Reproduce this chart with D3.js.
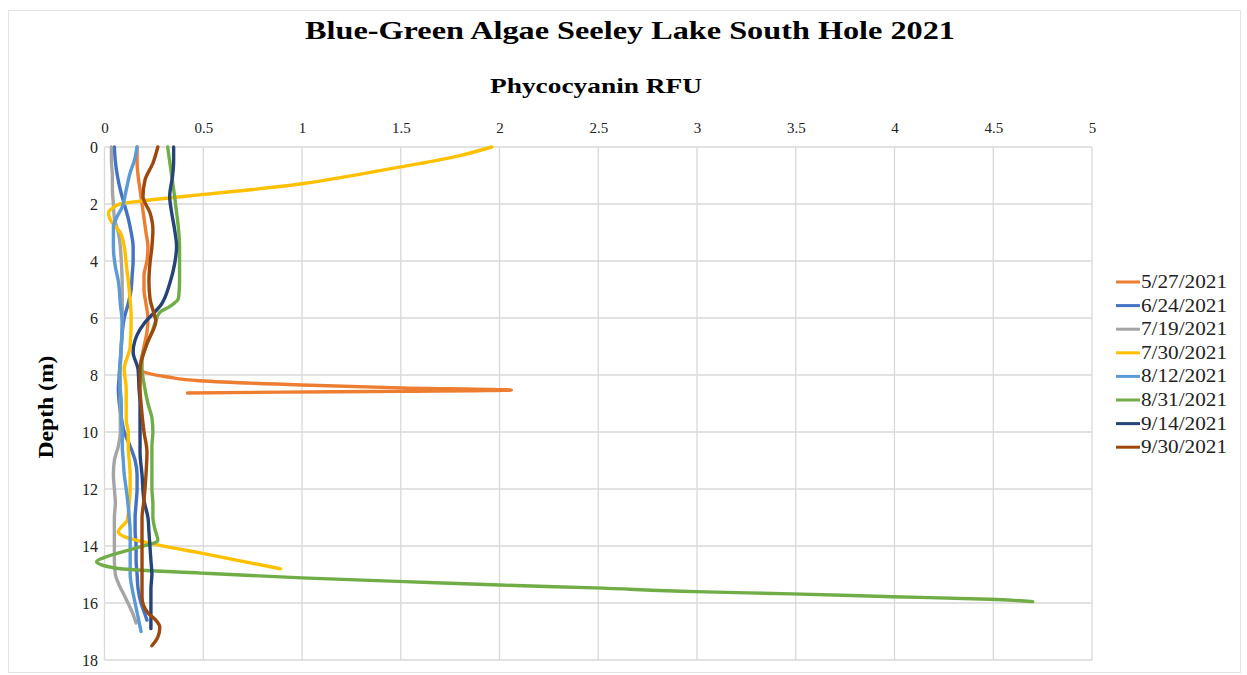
<!DOCTYPE html>
<html>
<head>
<meta charset="utf-8">
<script src="https://cdn.jsdelivr.net/npm/d3@7"></script>
<style>
  html, body { margin: 0; padding: 0; background: #fff; }
  svg { display: block; }
  svg text { font-family: "Liberation Serif", "Times New Roman", serif !important; }
</style>
</head>
<body>
<svg id="chart" width="1247" height="675"></svg>
<script>
// ---------- DATA ----------
const seriesNames = ["5/27/2021","6/24/2021","7/19/2021","7/30/2021","8/12/2021","8/31/2021","9/14/2021","9/30/2021"];
const seriesColors = ["#ED7D31","#4472C4","#A5A5A5","#FFC000","#5B9BD5","#70AD47","#264478","#9E480E"];
const xTicks = [0,0.5,1,1.5,2,2.5,3,3.5,4,4.5,5];
const yTicks = [0,2,4,6,8,10,12,14,16,18];

// depth (m) arrays and phycocyanin RFU arrays per sampling date
const depth_0527 = [0,0.5,1,1.5,2,2.5,3,3.5,4,4.5,5,5.5,6,6.5,7,7.5,7.8,8.07,8.2,8.35,8.45,8.53,8.57,8.6,8.63];
const rfu_0527   = [0.165,0.165,0.17,0.18,0.19,0.2,0.21,0.22,0.215,0.2,0.2,0.21,0.22,0.215,0.2,0.185,0.18,0.32,0.48,1.0,1.5,2.06,1.5,0.9,0.42];

const depth_0624 = [0,0.5,1,1.5,2,2.5,3,3.5,4,4.5,5,5.5,6,6.5,7,7.5,8,8.5,9,9.5,10,10.5,11,11.5,12,12.5,13,13.5,14,14.5,15,15.5,16,16.3,16.6];
const rfu_0624   = [0.05,0.055,0.065,0.08,0.1,0.12,0.135,0.145,0.145,0.14,0.135,0.12,0.1,0.09,0.085,0.08,0.075,0.07,0.075,0.085,0.1,0.13,0.155,0.165,0.165,0.16,0.155,0.155,0.16,0.16,0.165,0.17,0.185,0.2,0.215];

const depth_0719 = [0,0.5,1,1.5,2,2.5,3,3.5,4,5,6,7,8,9,10,10.5,11,11.5,12,12.5,13,13.5,14,14.5,15,15.3,15.8,16.4,16.7];
const rfu_0719   = [0.035,0.035,0.04,0.04,0.045,0.05,0.07,0.08,0.085,0.09,0.09,0.085,0.08,0.08,0.08,0.07,0.05,0.045,0.05,0.055,0.05,0.05,0.05,0.05,0.055,0.07,0.105,0.145,0.16];

const depth_0730 = [0,0.3,0.7,1.02,1.3,1.5,1.68,1.86,2.0,2.15,2.3,2.56,3.0,3.5,4.1,5,6,7,7.8,8.5,9,9.6,10,10.5,11,11.5,12,12.5,13.1,13.3,13.5,13.7,13.96,14.25,14.8];
const rfu_0730   = [1.96,1.8,1.5,1.24,0.99,0.74,0.48,0.23,0.08,0.04,0.02,0.03,0.08,0.1,0.11,0.125,0.135,0.13,0.1,0.11,0.11,0.11,0.12,0.12,0.125,0.13,0.13,0.125,0.115,0.09,0.07,0.11,0.27,0.49,0.89];

const depth_0812 = [0,0.5,0.9,1.5,2.1,2.5,2.8,3.5,4.2,4.7,5.5,6.2,7,7.5,8,8.5,9,9.5,10,10.5,11,11.5,12,12.6,13,13.5,14,14.5,15,15.5,16,16.5,17];
const rfu_0812   = [0.165,0.15,0.13,0.11,0.09,0.06,0.045,0.045,0.055,0.07,0.08,0.09,0.085,0.08,0.075,0.08,0.085,0.085,0.09,0.09,0.095,0.1,0.11,0.12,0.125,0.13,0.13,0.13,0.13,0.14,0.155,0.17,0.185];

const depth_0831 = [0,0.5,1,1.74,2.3,2.9,3.5,4.1,4.7,5.3,5.6,5.8,6.1,6.5,7,7.5,7.8,8.3,9,9.5,10,10.5,11,11.5,12,12.5,13,13.4,13.8,14.1,14.35,14.55,14.78,14.95,15.12,15.25,15.37,15.47,15.6,15.68,15.78,15.87,15.95];
const rfu_0831   = [0.32,0.33,0.34,0.355,0.365,0.375,0.38,0.38,0.38,0.375,0.33,0.28,0.26,0.24,0.21,0.19,0.19,0.2,0.22,0.24,0.245,0.24,0.24,0.24,0.24,0.245,0.245,0.255,0.27,0.145,0.02,-0.04,0.06,0.49,1.0,1.52,2.0,2.48,2.99,3.48,3.99,4.48,4.70];

const depth_0914 = [0,0.5,1,1.74,2.3,2.9,3.5,4.1,4.8,5.5,6.2,6.4,7.2,7.8,8.5,9,10,10.7,11.5,12.4,13,13.5,14,14.5,15,15.5,16,16.5,16.9];
const rfu_0914   = [0.35,0.35,0.345,0.33,0.34,0.355,0.365,0.355,0.33,0.29,0.2,0.18,0.145,0.17,0.175,0.18,0.18,0.18,0.19,0.2,0.22,0.225,0.23,0.235,0.24,0.235,0.235,0.235,0.235];

const depth_0930 = [0,0.57,1.16,1.74,2.3,2.9,3.5,4.1,4.7,5.3,5.95,6.1,6.9,7.8,8.5,9,10,10.7,11.5,12.4,13,14,15,15.8,16.35,16.6,16.85,17.2,17.5];
const rfu_0930   = [0.27,0.245,0.205,0.195,0.23,0.245,0.24,0.23,0.225,0.23,0.255,0.26,0.215,0.18,0.18,0.185,0.2,0.215,0.21,0.2,0.19,0.19,0.19,0.19,0.22,0.26,0.28,0.27,0.24];

const depthSets = [depth_0527, depth_0624, depth_0719, depth_0730, depth_0812, depth_0831, depth_0914, depth_0930];
const rfuSets   = [rfu_0527, rfu_0624, rfu_0719, rfu_0730, rfu_0812, rfu_0831, rfu_0914, rfu_0930];

// ---------- CHART ----------
const svg = d3.select("#chart");
const plot = {left: 104.5, right: 1092, top: 147, bottom: 660};
const SERIF = '"Liberation Serif", "Times New Roman", serif';

const x = d3.scaleLinear().domain([0, 5]).range([plot.left, plot.right]);
const y = d3.scaleLinear().domain([0, 18]).range([plot.top, plot.bottom]);

// outer chart frame
svg.append("rect").attr("x", 8.5).attr("y", 10.5).attr("width", 1232).attr("height", 662)
  .attr("fill", "#fff").attr("stroke", "#e3e3e3").attr("stroke-width", 1);

// gridlines
const grid = svg.append("g");
grid.selectAll("line.v").data(xTicks).join("line")
  .attr("x1", d => x(d)).attr("x2", d => x(d))
  .attr("y1", plot.top).attr("y2", plot.bottom)
  .attr("stroke", "#d9d9d9").attr("stroke-width", 1.3);
grid.selectAll("line.h").data(yTicks).join("line")
  .attr("x1", plot.left).attr("x2", plot.right)
  .attr("y1", d => y(d)).attr("y2", d => y(d))
  .attr("stroke", "#d9d9d9").attr("stroke-width", 1.3);

// axes (labels only, Excel style)
const xAxis = d3.axisTop(x).tickValues(xTicks).tickSize(0).tickPadding(0).tickFormat(d3.format("~g"));
const gx = svg.append("g").attr("transform", `translate(0, 133)`).call(xAxis)
  .attr("font-family", SERIF);
gx.select(".domain").remove();
gx.selectAll("text").style("font-family", SERIF).attr("font-size", 15).attr("fill", "#222");

const yAxis = d3.axisLeft(y).tickValues(yTicks).tickSize(0).tickPadding(0);
const gy = svg.append("g").attr("transform", `translate(98, 0)`).call(yAxis)
  .attr("font-family", SERIF);
gy.select(".domain").remove();
gy.selectAll("text").style("font-family", SERIF).attr("font-size", 16).attr("fill", "#222");

// series lines
const line = d3.line()
  .x(d => x(d[1]))
  .y(d => y(d[0]))
  .curve(d3.curveMonotoneY);

const seriesData = seriesNames.map((name, i) => ({
  name, color: seriesColors[i],
  points: depthSets[i].map((dp, j) => [dp, rfuSets[i][j]])
}));

svg.append("g").selectAll("path").data(seriesData).join("path")
  .attr("d", d => line(d.points))
  .attr("fill", "none")
  .attr("stroke", d => d.color)
  .attr("stroke-width", 3.4)
  .attr("stroke-linejoin", "round")
  .attr("stroke-linecap", "round");

// titles
svg.append("text").attr("x", 630).attr("y", 39).attr("text-anchor", "middle")
  .style("font-family", SERIF)
  .attr("font-size", 26).attr("font-weight", "bold").attr("fill", "#000")
  .attr("textLength", 650).attr("lengthAdjust", "spacingAndGlyphs")
  .text("Blue-Green Algae Seeley Lake South Hole 2021");

svg.append("text").attr("x", 596).attr("y", 93).attr("text-anchor", "middle")
  .style("font-family", SERIF)
  .attr("font-size", 21).attr("font-weight", "bold").attr("fill", "#000")
  .attr("textLength", 212).attr("lengthAdjust", "spacingAndGlyphs")
  .text("Phycocyanin RFU");

svg.append("text")
  .attr("transform", "translate(53, 407) rotate(-90)")
  .attr("text-anchor", "middle")
  .style("font-family", SERIF)
  .attr("font-size", 21).attr("font-weight", "bold").attr("fill", "#000")
  .attr("textLength", 103).attr("lengthAdjust", "spacingAndGlyphs")
  .text("Depth (m)");

// legend
const legend = svg.append("g").attr("transform", "translate(1116, 282)");
const li = legend.selectAll("g").data(seriesData).join("g")
  .attr("transform", (d, i) => `translate(0, ${i * 23.6})`);
li.append("line").attr("x1", 0).attr("x2", 24).attr("y1", 0).attr("y2", 0)
  .attr("stroke", d => d.color).attr("stroke-width", 3);
li.append("text").attr("x", 25).attr("y", 6)
  .style("font-family", SERIF)
  .attr("font-size", 18).attr("fill", "#222")
  .attr("textLength", 86).attr("lengthAdjust", "spacingAndGlyphs")
  .text(d => d.name);
</script>
</body>
</html>
